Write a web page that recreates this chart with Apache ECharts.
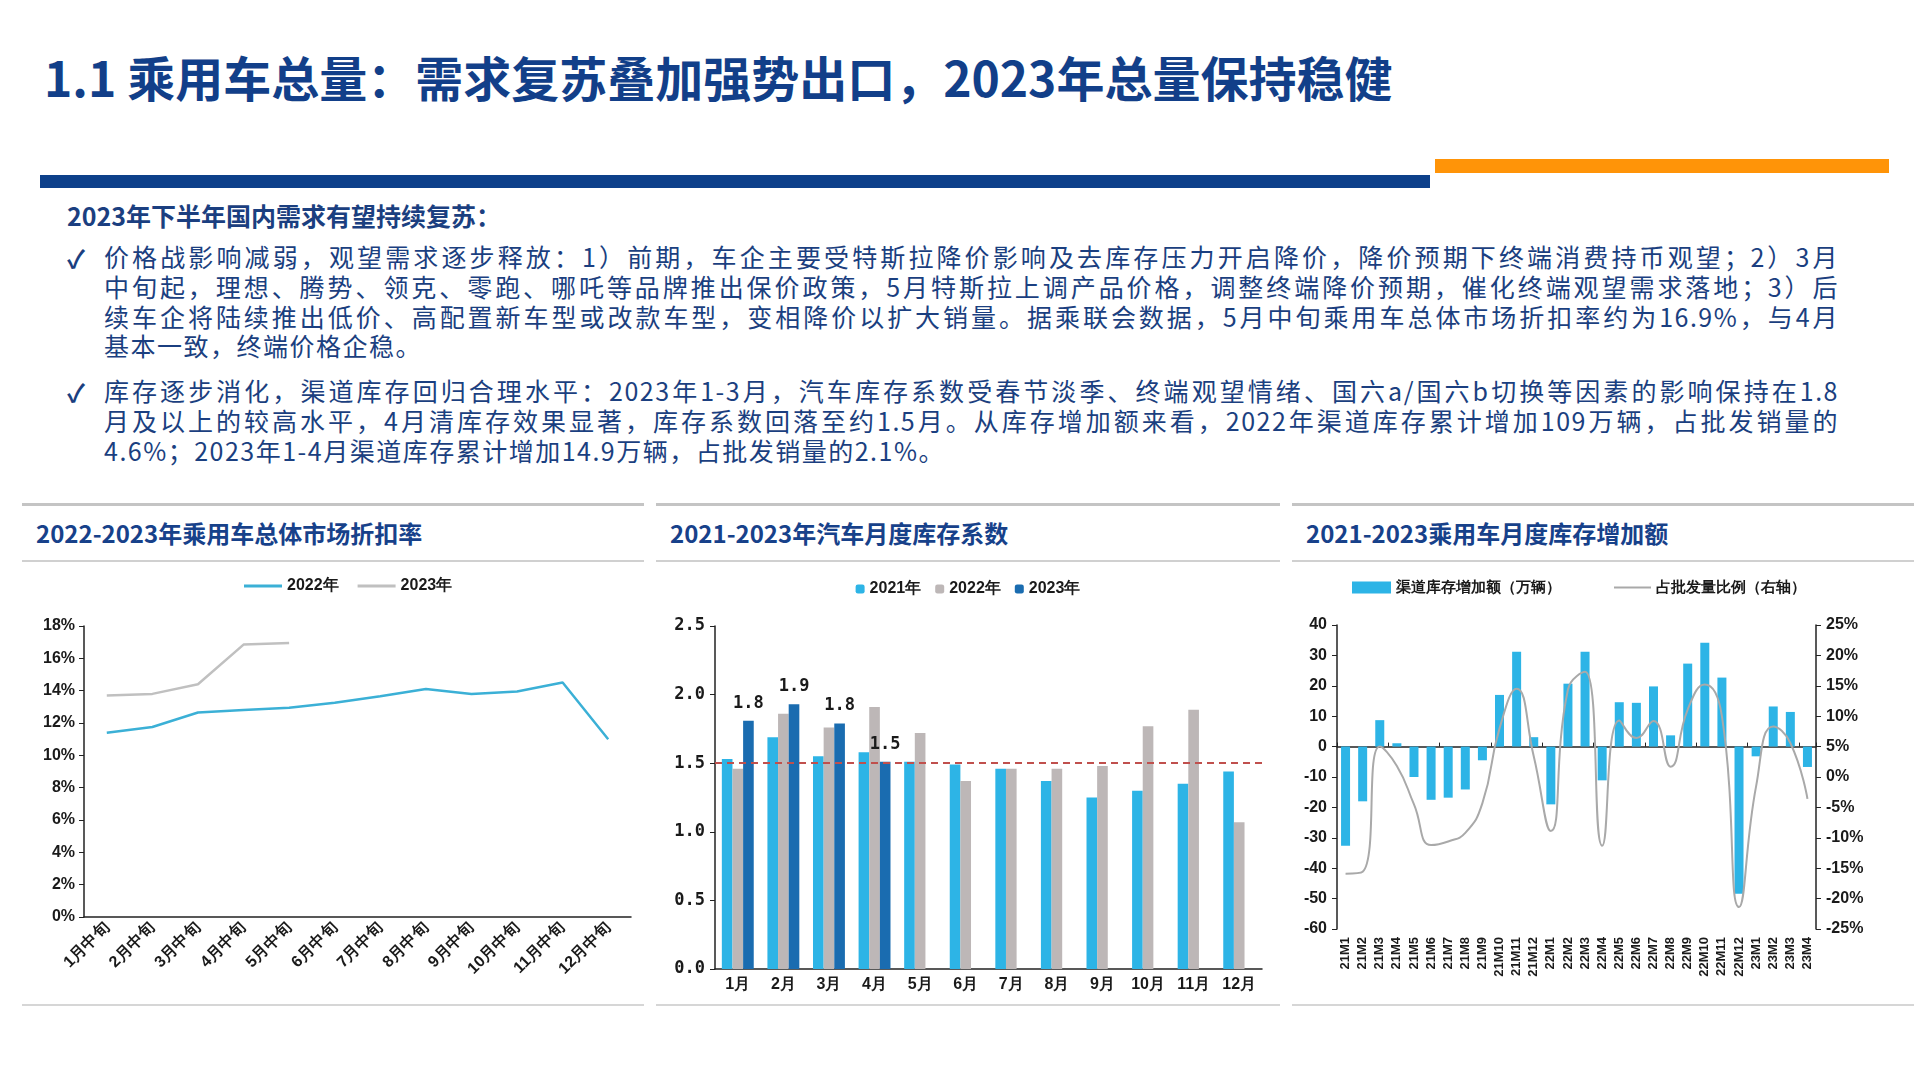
<!DOCTYPE html>
<html lang="zh-CN">
<head>
<meta charset="UTF-8">
<title>乘用车总量</title>
<style>
  body { margin: 0; width: 1920px; height: 1080px; background: #fff; position: relative; overflow: hidden;
         font-family: "Noto Sans CJK SC", sans-serif; }
  .abs { position: absolute; }
  #title { left: 44px; top: 46px; font-size: 48px; font-weight: bold; color: #123f89; line-height: 60px; white-space: nowrap; }
  #barBlue { left: 40px; top: 175px; width: 1390px; height: 13px; background: #0d408a; }
  #barOrange { left: 1435px; top: 159px; width: 454px; height: 14px; background: #ff9408; }
  #lead { left: 67px; top: 200px; font-size: 25px; font-weight: bold; color: #1b3f80; line-height: 30px; white-space: nowrap; }
  .check { left: 67px; font-size: 25px; font-weight: bold; color: #1b3f80; line-height: 30px; }
  .para { left: 104px; width: 1735px; font-size: 25px; color: #1b3f80; line-height: 29.8px; letter-spacing: 1.5px; }
  .para div { white-space: nowrap; text-align: justify; text-align-last: justify; }
  .para div.last { text-align-last: left; }
  .panel { top: 503px; height: 498px; border-top: 3px solid #c4c4c4; border-bottom: 2px solid #d6d6d6; }
  .panel .head { position: absolute; left: 0; right: 0; top: 0; height: 54px; border-bottom: 2px solid #d0d0d0; }
  .panel .head span { position: absolute; left: 14px; top: 11px; font-size: 24px; font-weight: bold; color: #17418a; line-height: 32px; white-space: nowrap; }
  .chart { position: absolute; left: 0; top: 57px; width: 100%; height: 440px; }
</style>
</head>
<body>

<div id="title" class="abs">1.1 乘用车总量：需求复苏叠加强势出口，2023年总量保持稳健</div>
<div id="barBlue" class="abs"></div>
<div id="barOrange" class="abs"></div>

<div id="lead" class="abs">2023年下半年国内需求有望持续复苏：</div>
<div class="abs check" style="top:242px;">✓</div>
<div class="abs para" style="top:242px;">
  <div>价格战影响减弱，观望需求逐步释放：1）前期，车企主要受特斯拉降价影响及去库存压力开启降价，降价预期下终端消费持币观望；2）3月</div>
  <div>中旬起，理想、腾势、领克、零跑、哪吒等品牌推出保价政策，5月特斯拉上调产品价格，调整终端降价预期，催化终端观望需求落地；3）后</div>
  <div>续车企将陆续推出低价、高配置新车型或改款车型，变相降价以扩大销量。据乘联会数据，5月中旬乘用车总体市场折扣率约为16.9%，与4月</div>
  <div class="last">基本一致，终端价格企稳。</div>
</div>
<div class="abs check" style="top:376px;">✓</div>
<div class="abs para" style="top:376px;">
  <div>库存逐步消化，渠道库存回归合理水平：2023年1-3月，汽车库存系数受春节淡季、终端观望情绪、国六a/国六b切换等因素的影响保持在1.8</div>
  <div>月及以上的较高水平，4月清库存效果显著，库存系数回落至约1.5月。从库存增加额来看，2022年渠道库存累计增加109万辆，占批发销量的</div>
  <div class="last">4.6%；2023年1-4月渠道库存累计增加14.9万辆，占批发销量的2.1%。</div>
</div>

<div class="abs panel" style="left:22px; width:622px;">
  <div class="head"><span>2022-2023年乘用车总体市场折扣率</span></div>
  <div id="c1" class="chart"></div>
</div>
<div class="abs panel" style="left:656px; width:624px;">
  <div class="head"><span>2021-2023年汽车月度库存系数</span></div>
  <div id="c2" class="chart"></div>
</div>
<div class="abs panel" style="left:1292px; width:622px;">
  <div class="head"><span>2021-2023乘用车月度库存增加额</span></div>
  <div id="c3" class="chart"></div>
</div>

<script src="https://cdn.jsdelivr.net/npm/echarts@6/dist/echarts.min.js"></script>
<script type="text/javascript">
  // 图1：折扣率（%）
  var months1 = ['1月中旬', '2月中旬', '3月中旬', '4月中旬', '5月中旬', '6月中旬', '7月中旬', '8月中旬', '9月中旬', '10月中旬', '11月中旬', '12月中旬'];
  var discount2022 = [11.4, 11.75, 12.65, 12.8, 12.95, 13.25, 13.65, 14.1, 13.8, 13.95, 14.5, 11.0];
  var discount2023 = [13.7, 13.8, 14.4, 16.85, 16.95];

  // 图2：库存系数
  var months2 = ['1月', '2月', '3月', '4月', '5月', '6月', '7月', '8月', '9月', '10月', '11月', '12月'];
  var stock2021 = [1.53, 1.69, 1.55, 1.58, 1.51, 1.49, 1.46, 1.37, 1.25, 1.30, 1.35, 1.44];
  var stock2022 = [1.46, 1.86, 1.76, 1.91, 1.72, 1.37, 1.46, 1.46, 1.48, 1.77, 1.89, 1.07];
  var stock2023 = [1.81, 1.93, 1.79, 1.51];

  // 图3：库存增加额（万辆）与占批发量比例（%）
  var months3 = ['21M1', '21M2', '21M3', '21M4', '21M5', '21M6', '21M7', '21M8', '21M9', '21M10', '21M11', '21M12',
                 '22M1', '22M2', '22M3', '22M4', '22M5', '22M6', '22M7', '22M8', '22M9', '22M10', '22M11', '22M12',
                 '23M1', '23M2', '23M3', '23M4'];
  var stockAdd = [-32.6, -18.0, 8.7, 1.1, -10.0, -17.5, -16.8, -14.1, -4.5, 17.0, 31.2, 3.1,
                  -19.0, 20.7, 31.2, -11.1, 14.6, 14.4, 19.8, 3.7, 27.3, 34.2, 22.7, -48.4,
                  -3.2, 13.2, 11.4, -6.7];
  var stockRatio = [-15.9, -15.6, 5.0, 1.8, -4.5, -11.2, -10.6, -9.2, -4.3, 8.0, 14.5, 3.4,
                    -8.9, 14.4, 17.3, -11.3, 9.3, 6.4, 9.2, 1.7, 11.1, 15.2, 10.0, -21.4,
                    -1.5, 8.3, 5.6, -3.6];

  var lightBlue = '#2db4e6', grey = '#bdb7b7', darkBlue = '#1a6cb0';
  var axisTxt = { color: '#1a1a1a', fontFamily: 'Liberation Sans', fontWeight: 'bold' };

  var chart1 = echarts.init(document.getElementById('c1'));
  chart1.setOption({
    animation: false,
    legend: {
      top: 10, left: 217, icon: 'rect', itemWidth: 38, itemHeight: 3, itemGap: 19,
      textStyle: { fontSize: 16, color: '#1a1a1a', fontWeight: 'bold' },
      data: ['2022年', '2023年']
    },
    grid: { left: 62, right: 13, top: 63, bottom: 86 },
    xAxis: {
      type: 'category', data: months1, boundaryGap: true,
      axisLine: { lineStyle: { color: '#222', width: 1.5 } },
      axisTick: { lineStyle: { color: '#222' } },
      axisLabel: Object.assign({ rotate: 45, fontSize: 16, margin: 8, interval: 0 }, axisTxt)
    },
    yAxis: {
      type: 'value', min: 0, max: 18, interval: 2,
      axisLine: { show: true, lineStyle: { color: '#222', width: 1.5 } },
      axisTick: { show: true, lineStyle: { color: '#222' } },
      splitLine: { show: false },
      axisLabel: Object.assign({ formatter: '{value}%', fontSize: 16, margin: 9 }, axisTxt)
    },
    series: [{
      name: '2022年', type: 'line', data: discount2022, symbol: 'none',
      lineStyle: { color: '#3bb0d6', width: 2.5 }, itemStyle: { color: '#3bb0d6' }
    }, {
      name: '2023年', type: 'line', data: discount2023, symbol: 'none',
      lineStyle: { color: '#c0c0c0', width: 2.5 }, itemStyle: { color: '#c0c0c0' }
    }]
  });

  var chart2 = echarts.init(document.getElementById('c2'));
  chart2.setOption({
    animation: false,
    legend: {
      top: 13, left: 'center', itemWidth: 9, itemHeight: 9, itemGap: 14,
      textStyle: { fontSize: 16, color: '#1a1a1a', fontWeight: 'bold' },
      data: ['2021年', '2022年', '2023年']
    },
    grid: { left: 59, right: 18, top: 63, bottom: 34 },
    xAxis: {
      type: 'category', data: months2,
      axisLine: { lineStyle: { color: '#222', width: 1.5 } },
      axisTick: { lineStyle: { color: '#222' } },
      axisLabel: { fontSize: 16, color: '#1a1a1a', fontWeight: 'bold', margin: 8, interval: 0 }
    },
    yAxis: {
      type: 'value', min: 0, max: 2.5, interval: 0.5,
      axisLine: { show: true, lineStyle: { color: '#222', width: 1.5 } },
      axisTick: { show: true, lineStyle: { color: '#222' } },
      splitLine: { show: false },
      axisLabel: { formatter: function (v) { return v.toFixed(1); }, fontSize: 17, color: '#1a1a1a',
                   fontFamily: 'DejaVu Sans Mono', fontWeight: 'bold', margin: 10 }
    },
    series: [{
      name: '2021年', type: 'bar', data: stock2021, barGap: '0%', barCategoryGap: '30%',
      itemStyle: { color: lightBlue },
      markLine: {
        symbol: 'none', silent: true, label: { show: false },
        lineStyle: { color: '#c0504d', type: [7, 5], width: 2 },
        data: [{ yAxis: 1.5 }]
      }
    }, {
      name: '2022年', type: 'bar', data: stock2022, itemStyle: { color: grey }
    }, {
      name: '2023年', type: 'bar', data: stock2023, itemStyle: { color: darkBlue },
      label: {
        show: true, position: 'top', distance: 9,
        formatter: function (p) { return p.value.toFixed(1); },
        fontSize: 17, color: '#1a1a1a', fontFamily: 'DejaVu Sans Mono', fontWeight: 'bold'
      }
    }]
  });

  var chart3 = echarts.init(document.getElementById('c3'));
  chart3.setOption({
    animation: false,
    legend: [{
      top: 12, left: 55, icon: 'rect', itemWidth: 39, itemHeight: 12,
      textStyle: { fontSize: 15, color: '#1a1a1a', fontWeight: 'bold' },
      data: ['渠道库存增加额（万辆）']
    }, {
      top: 12, left: 317, icon: 'rect', itemWidth: 37, itemHeight: 2,
      textStyle: { fontSize: 15, color: '#1a1a1a', fontWeight: 'bold' },
      data: ['占批发量比例（右轴）']
    }],
    grid: { left: 45, right: 98, top: 62, bottom: 74 },
    xAxis: [{
      type: 'category', data: months3, position: 'bottom',
      axisLine: { show: false, onZero: false }, axisTick: { show: false },
      axisLabel: { rotate: 90, fontSize: 13, color: '#1a1a1a', fontWeight: 'bold', margin: 8, interval: 0,
                   fontFamily: 'Liberation Sans' }
    }, {
      type: 'category', data: months3, position: 'top',
      axisLine: { onZero: true, lineStyle: { color: '#222', width: 1.5 } },
      axisTick: { show: true, length: 4, lineStyle: { color: '#222' } },
      axisLabel: { show: false }
    }],
    yAxis: [{
      type: 'value', min: -60, max: 40, interval: 10,
      axisLine: { show: true, lineStyle: { color: '#222', width: 1.5 } },
      axisTick: { show: true, lineStyle: { color: '#222' } },
      splitLine: { show: false },
      axisLabel: Object.assign({ fontSize: 16, margin: 10 }, axisTxt)
    }, {
      type: 'value', min: -25, max: 25, interval: 5, position: 'right',
      axisLine: { show: true, lineStyle: { color: '#222', width: 1.5 } },
      axisTick: { show: true, lineStyle: { color: '#222' } },
      splitLine: { show: false },
      axisLabel: Object.assign({ formatter: '{value}%', fontSize: 16, margin: 10 }, axisTxt)
    }],
    series: [{
      name: '渠道库存增加额（万辆）', type: 'bar', data: stockAdd, barWidth: 9,
      itemStyle: { color: lightBlue }
    }, {
      name: '占批发量比例（右轴）', type: 'line', yAxisIndex: 1, data: stockRatio,
      smooth: true, symbol: 'none', z: 5,
      lineStyle: { color: '#a9a9a9', width: 2 }, itemStyle: { color: '#a9a9a9' }
    }]
  });
</script>

</body>
</html>
